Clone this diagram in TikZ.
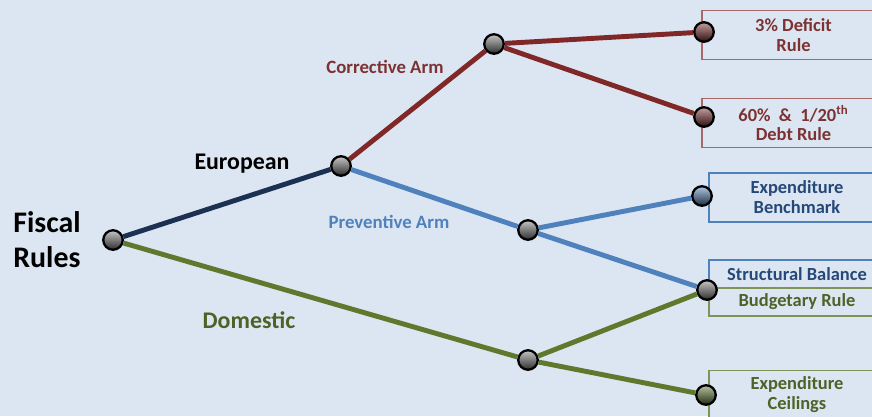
\documentclass[tikz,border=0pt]{standalone}
\usepackage{fontspec}
\setmainfont{Carlito}
\definecolor{bgblue}{RGB}{220,230,242}
\definecolor{armred}{RGB}{128,40,40}
\definecolor{armblue}{RGB}{79,129,189}
\definecolor{eunavy}{RGB}{28,48,82}
\definecolor{domgreen}{RGB}{94,120,46}
\definecolor{txtred}{RGB}{125,50,50}
\definecolor{txtblue}{RGB}{38,72,120}
\definecolor{txtgreen}{RGB}{78,98,40}

\begin{document}
\begin{tikzpicture}[x=0.02cm,y=-0.02cm,
  dot/.style={circle,draw=black,line width=1.3pt,minimum size=0.39cm,inner sep=0pt,
    top color=#1!45!white,bottom color=#1!35!black},
  dot/.default=gray,
  branch/.style={line width=2.8pt},
  rulebox/.style={draw=#1,line width=0.7pt,fill=bgblue,minimum width=3.52cm,
    minimum height=0.98cm,align=center,font=\bfseries\fontsize{10.5}{11.3}\selectfont},
  armlabel/.style={font=\bfseries\fontsize{10.7}{12}\selectfont},
  toplabel/.style={font=\bfseries\fontsize{13.6}{15}\selectfont}]
\path[use as bounding box,fill=bgblue] (0,0) rectangle (872,416);
\clip (0,0) rectangle (872,416);

% rule boxes
\node[rulebox=armred!70!white,text=txtred,minimum width=3.66cm] (deficit) at (793.5,35) {3\% Deficit\\Rule};
\node[rulebox=armred!70!white,text=txtred,minimum width=3.66cm] (debt) at (793.5,123) {60\%\ \ \&\ \ 1/20\textsuperscript{th}\\Debt Rule};
\node[rulebox=armblue,text=txtblue] (bench) at (797,197.5) {Expenditure\\Benchmark};
\node[rulebox=armblue,text=txtblue,minimum height=0.56cm] (struct) at (797,274) {Structural Balance};
\node[rulebox=domgreen!80!white,text=txtgreen,minimum height=0.56cm] (budget) at (797,302) {Budgetary Rule};
\node[rulebox=domgreen!80!white,text=txtgreen] (ceil) at (797,395) {Expenditure\\Ceilings};

% branch points
\node[dot] (root) at (113,240) {};
\node[dot] (europe) at (341,166) {};
\node[dot] (corr) at (494,44) {};
\node[dot] (prev) at (528,230) {};
\node[dot] (dom) at (528,360) {};
\node[dot=armred] (pDeficit) at (704,32) {};
\node[dot=armred] (pDebt) at (704,117) {};
\node[dot=armblue] (pBench) at (702,196) {};
\node[dot] (pStruct) at (707,290) {};
\node[dot=domgreen] (pCeil) at (706,395) {};

\draw[branch,eunavy] (root) -- (europe);
\draw[branch,armred] (europe) -- (corr);
\draw[branch,armred] (corr) -- (pDeficit);
\draw[branch,armred] (corr) -- (pDebt);
\draw[branch,armblue] (europe) -- (prev);
\draw[branch,armblue] (prev) -- (pBench);
\draw[branch,armblue] (prev) -- (pStruct);
\draw[branch,domgreen] (root) -- (dom);
\draw[branch,domgreen] (dom) -- (pStruct);
\draw[branch,domgreen] (dom) -- (pCeil);

% labels
\node[font=\bfseries\fontsize{17}{19.8}\selectfont,align=left] (fiscal) at (47,240) {Fiscal\\Rules};
\node[toplabel] (eu) at (242,164) {European};
\node[armlabel,text=txtred] (corrlbl) at (385,67) {Corrective Arm};
\node[armlabel,text=armblue] (prevlbl) at (389,222) {Preventive Arm};
\node[toplabel,text=txtgreen] (domlbl) at (249,320) {Domestic};
\end{tikzpicture}
\end{document}
